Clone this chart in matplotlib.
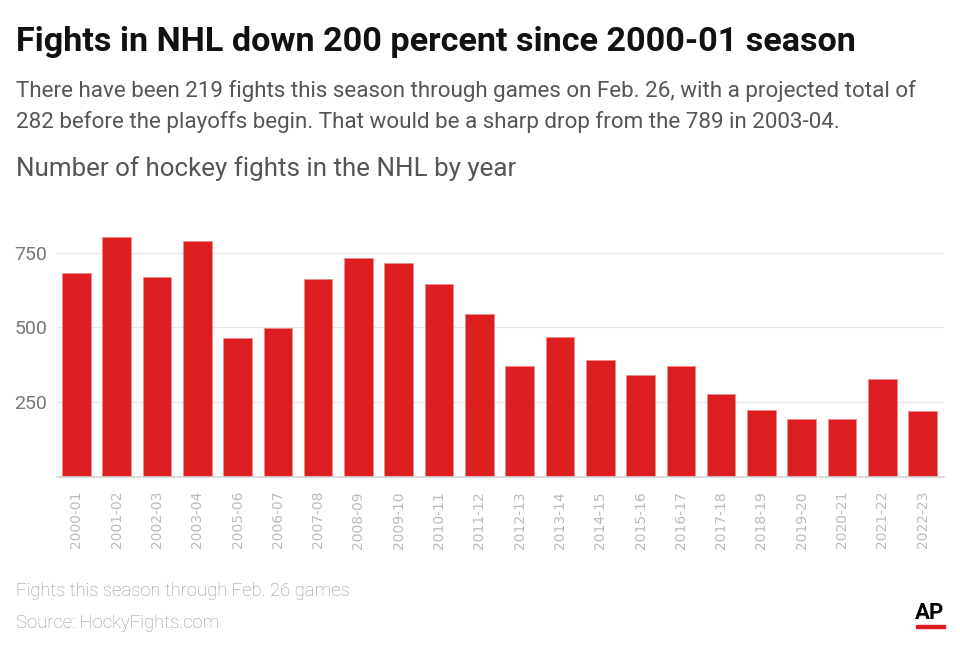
import numpy as np
import matplotlib
matplotlib.use("Agg")
import matplotlib.pyplot as plt

W, H = 960, 650

seasons = ["2000-01", "2001-02", "2002-03", "2003-04", "2005-06", "2006-07",
           "2007-08", "2008-09", "2009-10", "2010-11", "2011-12", "2012-13",
           "2013-14", "2014-15", "2015-16", "2016-17", "2017-18", "2018-19",
           "2019-20", "2020-21", "2021-22", "2022-23"]
fights = [683, 802, 667, 789, 466, 497, 663, 732, 714, 644, 545, 370,
          469, 391, 342, 370, 276, 225, 194, 194, 329, 219]
yticks = [250, 500, 750]

RED = "#dc1e20"

fig = plt.figure(figsize=(W / 100, H / 100), dpi=100)

# axes placed in pixel coords
ax_l, ax_r = 57, 944
ax_b = 477
ymax = 820
px_per_unit = 0.2992
ax_t = ax_b - ymax * px_per_unit
ax = fig.add_axes([ax_l / W, (H - ax_b) / H, (ax_r - ax_l) / W, (ax_b - ax_t) / H])

x = np.arange(len(seasons))
ax.bar(x, fights, width=0.71, color=RED, edgecolor="#f08a8a", linewidth=0.6, zorder=3)

ax.set_xlim(-0.48, len(seasons) - 1 + 0.53)
ax.set_ylim(0, ymax)
ax.set_yticks(yticks)
ax.set_yticklabels([str(v) for v in yticks], fontsize=14, color="#777777", family="Roboto")
ax.yaxis.grid(True, color="#e8e8e8", linewidth=0.9, zorder=0)
ax.tick_params(axis="y", length=0, pad=7)

ax.set_xticks(x)
ax.set_xticklabels(seasons, rotation=90, fontsize=10, color="#bbbbbb", va="top")
ax.tick_params(axis="x", length=0, pad=10)

for s in ["top", "right", "left"]:
    ax.spines[s].set_visible(False)
ax.spines["bottom"].set_color("#d4d4d4")
ax.spines["bottom"].set_linewidth(1.2)
ax.spines["bottom"].set_zorder(4)


def ftxt(px, py, s, **kw):
    fig.text(px / W, 1 - py / H, s, **kw)


ftxt(16, 51, "Fights in NHL down 200 percent since 2000-01 season",
     fontsize=24.6, fontweight="bold", family="Roboto",
     color="#111111", va="baseline")
ftxt(16, 97, "There have been 219 fights this season through games on Feb. 26, with a projected total of",
     fontsize=16.1, family="Roboto", color="#555555", va="baseline")
ftxt(16, 128, "282 before the playoffs begin. That would be a sharp drop from the 789 in 2003-04.",
     fontsize=16.1, family="Roboto", color="#555555", va="baseline")
ftxt(16, 176, "Number of hockey fights in the NHL by year",
     fontsize=18.7, family="Roboto", color="#555555", va="baseline")

ftxt(16, 596, "Fights this season through Feb. 26 games",
     fontsize=13.3, family="Roboto", fontweight="light", color="#949494", va="baseline")
ftxt(16, 628, "Source: HockyFights.com",
     fontsize=13.3, family="Roboto", fontweight="light", color="#949494", va="baseline")

# AP logo
ftxt(930, 619, "AP", fontsize=16, fontweight="bold", family="Roboto",
     color="#000000", ha="center", va="baseline")
fig.patches.append(matplotlib.patches.Rectangle((916 / W, 1 - 628 / H), 29 / W, 3 / H,
                                                transform=fig.transFigure, color=RED))

fig.savefig("out.png", dpi=100)
